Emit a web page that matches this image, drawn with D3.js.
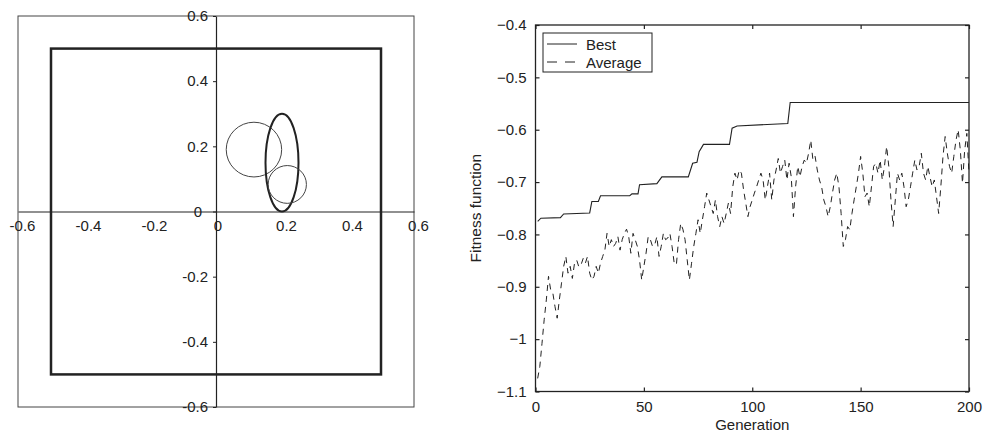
<!DOCTYPE html>
<html>
<head>
<meta charset="utf-8">
<script src="https://cdn.jsdelivr.net/npm/d3@7"></script>
<style>
  body { margin: 0; background: #fff; }
  svg { display: block; font-family: "Liberation Sans", Arial, sans-serif; }
</style>
</head>
<body>
<div id="chart"></div>
<script>
// ---- data: left panel (geometry) ----
var leftTicks = [-0.6, -0.4, -0.2, 0, 0.2, 0.4, 0.6];
var leftTickLabels = ["-0.6", "-0.4", "-0.2", "0", "0.2", "0.4", "0.6"];
var squareBounds = [-0.5, 0.5];
var shapeCx = [0.115, 0.2, 0.216];
var shapeCy = [0.19, 0.15, 0.083];
var shapeRx = [0.084, 0.05, 0.058];
var shapeRy = [0.084, 0.15, 0.058];

// ---- data: right panel (fitness) ----
var genTicks = [0, 50, 100, 150, 200];
var fitTicks = [-1.1, -1, -0.9, -0.8, -0.7, -0.6, -0.5, -0.4];
var bestGen = [1, 2.5, 11.5, 13, 25, 26, 29, 30, 43.5, 44.5, 47.3, 48, 56, 58.3, 70.5, 72.5, 74.5, 75.5, 77.5, 89.5, 90.7, 93, 116.4, 117.5, 200];
var bestVal = [-0.775, -0.769, -0.768, -0.761, -0.759, -0.737, -0.737, -0.726, -0.726, -0.7225, -0.7225, -0.705, -0.703, -0.690, -0.690, -0.664, -0.662, -0.642, -0.628, -0.628, -0.597, -0.593, -0.588, -0.548, -0.548];
var avgVal = [
  -1.075, -1.052, -1.008, -0.963, -0.925, -0.88, -0.906, -0.912, -0.938, -0.96,
  -0.925, -0.893, -0.861, -0.842, -0.874, -0.861, -0.884, -0.855, -0.849, -0.862,
  -0.858, -0.846, -0.855, -0.842, -0.874, -0.887, -0.88, -0.861, -0.874, -0.855,
  -0.842, -0.83, -0.798, -0.823, -0.81, -0.823, -0.817, -0.804, -0.83, -0.81,
  -0.798, -0.79, -0.804, -0.836, -0.798, -0.81, -0.823, -0.849, -0.887, -0.861,
  -0.836, -0.804, -0.81, -0.823, -0.82, -0.804, -0.842, -0.823, -0.798, -0.81,
  -0.807, -0.798, -0.823, -0.855, -0.858, -0.81, -0.779, -0.79, -0.81, -0.849,
  -0.887, -0.855, -0.823, -0.798, -0.772, -0.798, -0.772, -0.747, -0.721, -0.734,
  -0.747, -0.76, -0.734, -0.766, -0.785, -0.766, -0.779, -0.76, -0.74, -0.76,
  -0.709, -0.683, -0.696, -0.677, -0.683, -0.715, -0.74, -0.766, -0.747, -0.734,
  -0.721, -0.709, -0.696, -0.683, -0.696, -0.734, -0.709, -0.683, -0.734, -0.696,
  -0.677, -0.655, -0.683, -0.67, -0.658, -0.696, -0.664, -0.69, -0.766, -0.709,
  -0.67, -0.69, -0.67, -0.658, -0.664, -0.645, -0.62, -0.658, -0.651, -0.677,
  -0.696, -0.709, -0.734, -0.747, -0.766, -0.747, -0.721, -0.696, -0.683, -0.709,
  -0.76, -0.823, -0.81, -0.785, -0.791, -0.76, -0.734, -0.709, -0.683, -0.651,
  -0.683, -0.728, -0.721, -0.747, -0.709, -0.67, -0.664, -0.683, -0.658, -0.696,
  -0.67, -0.632, -0.67, -0.734, -0.785, -0.734, -0.683, -0.696, -0.683, -0.709,
  -0.747, -0.734, -0.709, -0.683, -0.658, -0.677, -0.67, -0.645, -0.683, -0.696,
  -0.67, -0.69, -0.709, -0.696, -0.728, -0.76, -0.709, -0.651, -0.613, -0.645,
  -0.67, -0.683, -0.651, -0.62, -0.6, -0.639, -0.702, -0.639, -0.607, -0.683
];
var legendLabels = ["Best", "Average"];

var svgWidth = 985;
var svgHeight = 431;
var ink = "#222";

var svg = d3.select("#chart")
  .append("svg")
  .attr("width", svgWidth)
  .attr("height", svgHeight);

svg.append("rect").attr("width", svgWidth).attr("height", svgHeight).attr("fill", "#fff");

// ================= left panel =================
var xL = d3.scaleLinear().domain([-0.6, 0.6]).range([18, 414]);
var yL = d3.scaleLinear().domain([-0.6, 0.6]).range([407, 16]);

var left = svg.append("g");

// outer frame
left.append("rect")
  .attr("x", xL(-0.6))
  .attr("y", yL(0.6))
  .attr("width", xL(0.6) - xL(-0.6))
  .attr("height", yL(-0.6) - yL(0.6))
  .attr("fill", "none")
  .attr("stroke", "#444")
  .attr("stroke-width", 1);

// thick square
left.append("rect")
  .attr("x", xL(squareBounds[0]))
  .attr("y", yL(squareBounds[1]))
  .attr("width", xL(squareBounds[1]) - xL(squareBounds[0]))
  .attr("height", yL(squareBounds[0]) - yL(squareBounds[1]))
  .attr("fill", "none")
  .attr("stroke", ink)
  .attr("stroke-width", 2.5);

// x axis through origin
var xAxisL = left.append("g")
  .attr("transform", `translate(0, ${yL(0)})`)
  .call(d3.axisBottom(xL)
    .tickValues(leftTicks)
    .tickFormat((d, i) => leftTickLabels[i])
    .tickSize(0)
    .tickPadding(9));
xAxisL.select(".domain").attr("stroke", ink).attr("stroke-width", 1.2);
xAxisL.selectAll("text")
  .attr("dx", d => d === 0 ? 1.5 : 4)
  .style("font-size", "15px")
  .attr("fill", "#222");

// y axis through origin
var yAxisL = left.append("g")
  .attr("transform", `translate(${xL(0)}, 0)`)
  .call(d3.axisLeft(yL)
    .tickValues(leftTicks)
    .tickFormat((d, i) => leftTickLabels[i])
    .tickSize(3)
    .tickSizeOuter(0)
    .tickPadding(5));
yAxisL.select(".domain").attr("stroke", ink).attr("stroke-width", 1.2);
yAxisL.selectAll(".tick line").attr("stroke", ink);
yAxisL.selectAll("text")
  .attr("dx", d => d === 0 ? -6 : 0)
  .style("font-size", "15px")
  .attr("fill", "#222");

// circles and the ellipse
var shapes = shapeCx.map((c, i) => ({cx: c, cy: shapeCy[i], rx: shapeRx[i], ry: shapeRy[i]}));
left.selectAll(".shape")
  .data(shapes)
  .enter()
  .append("ellipse")
  .attr("class", "shape")
  .attr("cx", d => xL(d.cx))
  .attr("cy", d => yL(d.cy))
  .attr("rx", d => xL(d.rx) - xL(0))
  .attr("ry", d => yL(0) - yL(d.ry))
  .attr("fill", "none")
  .attr("stroke", (d, i) => i === 1 ? ink : "#444")
  .attr("stroke-width", (d, i) => i === 1 ? 2 : 1);

// ================= right panel =================
var xR = d3.scaleLinear().domain([0, 200]).range([535.5, 969]);
var yR = d3.scaleLinear().domain([-1.1, -0.4]).range([391.5, 25]);
var fmt = d => (d < 0 ? "\u2212" : "") + Math.abs(d);

var right = svg.append("g");

var axB = right.append("g")
  .attr("transform", `translate(0, ${yR(-1.1)})`)
  .call(d3.axisBottom(xR).tickValues(genTicks).tickSize(-4).tickSizeOuter(0).tickPadding(10));
var axT = right.append("g")
  .attr("transform", `translate(0, ${yR(-0.4)})`)
  .call(d3.axisTop(xR).tickValues(genTicks).tickSize(-4).tickSizeOuter(0).tickFormat(""));
var axLft = right.append("g")
  .attr("transform", `translate(${xR(0)}, 0)`)
  .call(d3.axisLeft(yR).tickValues(fitTicks).tickFormat(fmt).tickSize(-4).tickSizeOuter(0).tickPadding(9));
var axRgt = right.append("g")
  .attr("transform", `translate(${xR(200)}, 0)`)
  .call(d3.axisRight(yR).tickValues(fitTicks).tickSize(-4).tickSizeOuter(0).tickFormat(""));

[axB, axT, axLft, axRgt].forEach(function(a) {
  a.select(".domain").remove();
  a.selectAll(".tick line").attr("stroke", ink).attr("stroke-width", 1.2);
  a.selectAll("text").style("font-size", "15px").attr("fill", "#222");
});

// frame
right.append("rect")
  .attr("x", xR(0))
  .attr("y", yR(-0.4))
  .attr("width", xR(200) - xR(0))
  .attr("height", yR(-1.1) - yR(-0.4))
  .attr("fill", "none")
  .attr("stroke", ink)
  .attr("stroke-width", 1.3);

// best line
var bestData = bestGen.map((g, i) => ({g: g, v: bestVal[i]}));
var line = d3.line().x(d => xR(d.g)).y(d => yR(d.v));
right.append("path")
  .datum(bestData)
  .attr("d", line)
  .attr("fill", "none")
  .attr("stroke", ink)
  .attr("stroke-width", 1.1);

// average line
var avgData = avgVal.map((v, i) => ({g: i + 1, v: v}));
right.append("path")
  .datum(avgData)
  .attr("d", line)
  .attr("fill", "none")
  .attr("stroke", ink)
  .attr("stroke-width", 1)
  .attr("stroke-dasharray", "6,5");

// axis titles
right.append("text")
  .attr("x", (xR(0) + xR(200)) / 2)
  .attr("y", 429.5)
  .attr("text-anchor", "middle")
  .style("font-size", "15px")
  .attr("fill", "#222")
  .text("Generation");

right.append("text")
  .attr("transform", `translate(480.5, ${(yR(-0.4) + yR(-1.1)) / 2}) rotate(-90)`)
  .attr("text-anchor", "middle")
  .style("font-size", "15.5px")
  .attr("fill", "#222")
  .text("Fitness function");

// legend
var legend = right.append("g").attr("transform", "translate(543, 33)");
legend.append("rect")
  .attr("width", 109)
  .attr("height", 39)
  .attr("fill", "#fff")
  .attr("stroke", ink)
  .attr("stroke-width", 1);

legendLabels.forEach(function(lbl, i) {
  var ly = 11 + i * 18;
  legend.append("line")
    .attr("x1", 4).attr("x2", 34)
    .attr("y1", ly).attr("y2", ly)
    .attr("stroke", ink)
    .attr("stroke-width", 1)
    .attr("stroke-dasharray", i === 1 ? "10,8" : null);
  legend.append("text")
    .attr("x", 43)
    .attr("y", ly + 5.5)
    .style("font-size", "15px")
    .attr("fill", "#222")
    .text(lbl);
});
</script>
</body>
</html>
